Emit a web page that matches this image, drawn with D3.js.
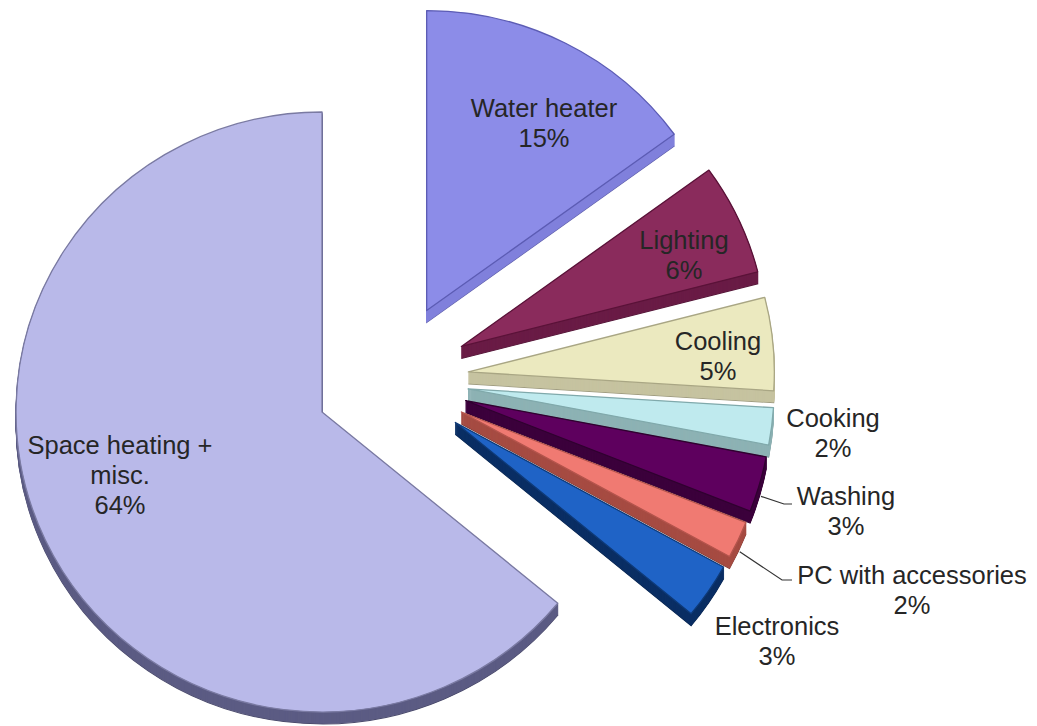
<!DOCTYPE html>
<html>
<head>
<meta charset="utf-8">
<script src="https://cdn.jsdelivr.net/npm/d3@7"></script>
<style>
  body { margin: 0; background: #ffffff; }
  svg { display: block; }
</style>
</head>
<body>
<svg id="chart" width="1037" height="726"></svg>
<script>
// Household energy use by end use, listed clockwise from 12 o'clock
const categories = ["Water heater", "Lighting", "Cooling", "Cooking", "Washing",
                    "PC with accessories", "Electronics", "Space heating + misc."];
const values = [15, 6, 5, 2, 3, 2, 3, 64];
// How each category name wraps inside its label
const labelLines = [["Water heater"], ["Lighting"], ["Cooling"], ["Cooking"], ["Washing"],
                    ["PC with accessories"], ["Electronics"], ["Space heating +", "misc."]];

// Face colours: top, extruded side, outline
const topColors  = ["#8c8ce8", "#8a2b5c", "#ebe9bf", "#bfeaee", "#5e005e", "#f07a72", "#1f63c6", "#b9b9e9"];
const sideColors = ["#8080dc", "#6a1c46", "#c6c3a0", "#8db2b4", "#3c003c", "#a64c43", "#0b2f64", "#5c5c84"];
const edgeColors = ["#5c5cb4", "#5a1238", "#a9a684", "#80a9ab", "#300030", "#b4544c", "#0e3a78", "#7a7aa2"];

// Geometry
const cx = 391.7, cy = 379.2;   // pie centre before slices are pulled out
const R = 300, sx = 1.02;        // radius and slight horizontal stretch of the tilted disc
const explode = 77, depth = 12;  // slice pull-out distance and extrusion height
const lineGap = 30;
const fontSize = 25.5;

// Label anchors: centre x and first baseline y
const labelAt = [[544, 117], [684, 249], [718, 350], [833, 427], [846, 505],
                 [912, 584], [777, 635], [120, 454]];
// Elbow and end points of leader lines for labels set outside their slices
const leaderPts = { 4: [[784, 504], [792, 504]], 5: [[782, 580], [792, 580]] };

const svg = d3.select("#chart");

const arcs = d3.pie().sort(null).startAngle(0).endAngle(2 * Math.PI)
  .value(i => values[i])(d3.range(values.length));

const arcGen = d3.arc().innerRadius(0).outerRadius(R);

function apexOf(a) {
  const mid = (a.startAngle + a.endAngle) / 2;
  return [cx + explode * Math.sin(mid), cy - explode * Math.cos(mid)];
}

// Largest slice first, then the others from top to bottom so lower slices sit in front
const order = [7, 0, 1, 2, 3, 4, 5, 6];

const slices = svg.append("g").attr("class", "slices");
order.forEach(i => {
  const a = arcs[i];
  const [ax, ay] = apexOf(a);
  const g = slices.append("g").attr("class", "slice");
  // extruded side: stacked copies of the face shifted downward
  for (let k = depth; k >= 1; k--) {
    g.append("path")
      .attr("d", arcGen(a))
      .attr("transform", `translate(${ax},${ay + k}) scale(${sx},1)`)
      .attr("fill", sideColors[i])
      .attr("stroke", k === depth ? d3.color(sideColors[i]).darker(0.6) : sideColors[i])
      .attr("stroke-width", 1);
  }
  // top face
  g.append("path")
    .attr("d", arcGen(a))
    .attr("transform", `translate(${ax},${ay}) scale(${sx},1)`)
    .attr("fill", topColors[i])
    .attr("stroke", edgeColors[i])
    .attr("stroke-width", 1.3)
    .attr("stroke-linejoin", "round");
});

// Leader lines
const line = d3.line();
Object.keys(leaderPts).forEach(key => {
  const i = +key;
  const a = arcs[i];
  const mid = (a.startAngle + a.endAngle) / 2;
  const [ax, ay] = apexOf(a);
  const start = [ax + sx * R * Math.sin(mid) + 1.5, ay - R * Math.cos(mid) + depth];
  svg.append("path")
    .attr("d", line([start, ...leaderPts[i]]))
    .attr("fill", "none")
    .attr("stroke", "#333333")
    .attr("stroke-width", 1.2);
});

// Labels: name lines followed by the percentage
const labels = svg.append("g")
  .attr("font-family", "'Liberation Sans', Arial, sans-serif")
  .attr("font-size", fontSize)
  .attr("text-anchor", "middle")
  .attr("fill", "#262626");

arcs.forEach((a, i) => {
  const [x, y] = labelAt[i];
  const lines = [...labelLines[i], `${values[i]}%`];
  const t = labels.append("text").attr("x", x).attr("y", y);
  lines.forEach((s, j) => {
    t.append("tspan").attr("x", x).attr("y", y + j * lineGap).text(s);
  });
});
</script>
</body>
</html>
